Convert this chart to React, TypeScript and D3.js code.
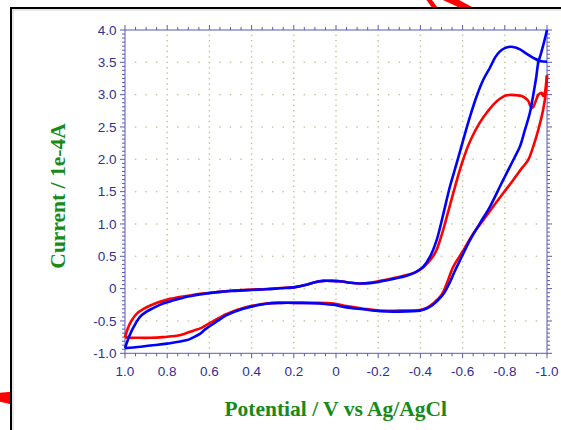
import React from "react";
import * as d3 from "d3";

// ---- data (Potential V, Current 1e-4 A) ----
const redForward: [number, number][] = [
  [1.0, -0.75], [0.985, -0.6], [0.97, -0.5], [0.945, -0.39], [0.91, -0.31], [0.88, -0.26],
  [0.8, -0.17], [0.7, -0.11], [0.645, -0.08], [0.55, -0.05], [0.49, -0.03], [0.4, -0.015],
  [0.33, -0.005], [0.265, 0.01], [0.2, 0.02], [0.14, 0.06], [0.1, 0.1], [0.06, 0.12],
  [0.02, 0.12], [-0.03, 0.11], [-0.07, 0.09], [-0.11, 0.08], [-0.16, 0.09], [-0.21, 0.12],
  [-0.27, 0.16], [-0.335, 0.21], [-0.38, 0.26], [-0.41, 0.32], [-0.435, 0.4], [-0.46, 0.5],
  [-0.477, 0.6], [-0.493, 0.75], [-0.51, 0.93], [-0.525, 1.11], [-0.556, 1.48], [-0.58, 1.76],
  [-0.6, 1.97], [-0.625, 2.2], [-0.65, 2.38], [-0.68, 2.56], [-0.714, 2.72], [-0.762, 2.9],
  [-0.809, 2.99], [-0.856, 2.99], [-0.88, 2.98], [-0.896, 2.95], [-0.912, 2.9], [-0.922, 2.82],
  [-0.932, 2.8], [-0.943, 2.87], [-0.959, 3.0], [-0.967, 3.02], [-0.974, 3.03], [-0.982, 2.98],
  [-0.991, 3.05], [-0.996, 3.18], [-1.0, 3.3],
];
const redReverse: [number, number][] = [
  [-1.0, 3.3], [-0.995, 3.05], [-0.982, 2.77], [-0.959, 2.46], [-0.935, 2.2], [-0.911, 1.99],
  [-0.88, 1.86], [-0.84, 1.68], [-0.793, 1.48], [-0.745, 1.27], [-0.698, 1.06], [-0.65, 0.85],
  [-0.603, 0.59], [-0.556, 0.34], [-0.525, 0.08], [-0.5, -0.1], [-0.46, -0.23], [-0.43, -0.3],
  [-0.398, -0.33], [-0.3, -0.34], [-0.209, -0.34], [-0.13, -0.31], [-0.05, -0.27], [0.013, -0.23],
  [0.108, -0.22], [0.17, -0.22], [0.265, -0.22], [0.33, -0.23], [0.44, -0.3], [0.518, -0.39],
  [0.597, -0.53], [0.64, -0.61], [0.676, -0.65], [0.72, -0.7], [0.755, -0.73], [0.82, -0.75],
  [0.88, -0.76], [0.95, -0.76], [0.976, -0.76], [1.0, -0.75],
];
const blueForward: [number, number][] = [
  [1.0, -0.92], [0.985, -0.78], [0.968, -0.65], [0.95, -0.54], [0.93, -0.44], [0.9, -0.36],
  [0.866, -0.3], [0.82, -0.23], [0.77, -0.18], [0.7, -0.12], [0.645, -0.09], [0.55, -0.05],
  [0.49, -0.035], [0.4, -0.02], [0.33, -0.01], [0.265, 0.005], [0.2, 0.02], [0.14, 0.06],
  [0.1, 0.1], [0.06, 0.12], [0.02, 0.12], [-0.03, 0.11], [-0.07, 0.09], [-0.11, 0.08],
  [-0.16, 0.085], [-0.21, 0.11], [-0.27, 0.15], [-0.335, 0.2], [-0.38, 0.26], [-0.414, 0.34],
  [-0.445, 0.49], [-0.477, 0.75], [-0.509, 1.16], [-0.54, 1.58], [-0.572, 1.94], [-0.603, 2.3],
  [-0.635, 2.66], [-0.667, 2.98], [-0.698, 3.23], [-0.73, 3.42], [-0.755, 3.58], [-0.777, 3.67],
  [-0.8, 3.72], [-0.825, 3.74], [-0.85, 3.73], [-0.872, 3.7], [-0.9, 3.64], [-0.935, 3.57],
  [-0.967, 3.52], [-1.0, 3.51],
];
const blueReverse: [number, number][] = [
  [-1.0, 4.0], [-0.985, 3.8], [-0.97, 3.62], [-0.959, 3.5], [-0.948, 3.25], [-0.935, 3.0],
  [-0.919, 2.72], [-0.895, 2.45], [-0.872, 2.2], [-0.845, 2.02], [-0.825, 1.89], [-0.8, 1.73],
  [-0.777, 1.58], [-0.73, 1.27], [-0.682, 1.01], [-0.635, 0.75], [-0.588, 0.44], [-0.56, 0.25],
  [-0.54, 0.1], [-0.51, -0.08], [-0.48, -0.19], [-0.455, -0.26], [-0.42, -0.32], [-0.398, -0.34],
  [-0.3, -0.355], [-0.209, -0.35], [-0.13, -0.32], [-0.05, -0.29], [0.013, -0.25], [0.108, -0.225],
  [0.17, -0.22], [0.265, -0.22], [0.33, -0.235], [0.44, -0.31], [0.518, -0.41], [0.58, -0.54],
  [0.62, -0.63], [0.645, -0.7], [0.68, -0.76], [0.71, -0.8], [0.8, -0.85], [0.88, -0.88],
  [0.96, -0.91], [1.0, -0.92],
];

const xTicks = [1.0, 0.8, 0.6, 0.4, 0.2, 0, -0.2, -0.4, -0.6, -0.8, -1.0];
const xTickLabels = ["1.0", "0.8", "0.6", "0.4", "0.2", "0", "-0.2", "-0.4", "-0.6", "-0.8", "-1.0"];
const yTicks = [4.0, 3.5, 3.0, 2.5, 2.0, 1.5, 1.0, 0.5, 0, -0.5, -1.0];
const yTickLabels = ["4.0", "3.5", "3.0", "2.5", "2.0", "1.5", "1.0", "0.5", "0", "-0.5", "-1.0"];

const xTitle = "Potential / V vs Ag/AgCl";
const yTitle = "Current / 1e-4A";

export default function App() {
  const W = 561, H = 430;
  const left = 125, right = 547, top = 30, bottom = 353.3;
  const x = d3.scaleLinear().domain([1, -1]).range([left, right]);
  const y = d3.scaleLinear().domain([-1, 4]).range([bottom, top]);
  const line = d3.line<[number, number]>().x(d => x(d[0])).y(d => y(d[1])).curve(d3.curveCatmullRom.alpha(0.5));

  const axisColor = "#5a5ab8";
  const labelColor = "#2f2f96";
  const gridColor = "#c4c99c";
  const green = "#178a17";

  const xMinor = d3.range(0, 41).map(i => -1 + i * 0.05);
  const yMinor = d3.range(0, 81).map(i => -1 + i * 0.0625);
  const yDots = d3.range(1, 60).map(i => -1 + i / 12);
  const isMajorX = (v: number) => Math.abs(v * 5 - Math.round(v * 5)) < 1e-6;
  const isMajorY = (v: number) => Math.abs(v * 2 - Math.round(v * 2)) < 1e-6;

  const dots: JSX.Element[] = [];
  yTicks.slice(1, -1).forEach((yv, i) => {
    xMinor.slice(1, -1).forEach((xv, j) => {
      dots.push(<rect key={`h${i}-${j}`} x={x(xv) - 0.75} y={y(yv) - 0.75} width={1.5} height={1.5} fill={gridColor} />);
    });
  });
  xTicks.slice(1, -1).forEach((xv, i) => {
    yDots.forEach((yv, j) => {
      if (Math.abs(yv * 2 - Math.round(yv * 2)) < 1e-6) return;
      dots.push(<rect key={`v${i}-${j}`} x={x(xv) - 0.75} y={y(yv) - 0.75} width={1.5} height={1.5} fill={gridColor} />);
    });
  });

  return (
    <svg width={W} height={H} style={{ position: "absolute", left: 0, top: 0, background: "#fff" }}>
      <rect x={0} y={0} width={W} height={H} fill="#fff" />
      {/* decorative red pieces */}
      <polygon points="426.5,0 432,0 437,7 431.5,7" fill="#ff0000" />
      <polygon points="443,0 459,0 472,7 458,7" fill="#ff0000" />
      <polygon points="0,392.7 11,391.7 11,404.3 0,401.7" fill="#ff0000" />
      {/* frame */}
      <line x1={11} x2={W} y1={10} y2={10} stroke="#cfcfcf" strokeWidth={1} />
      <line x1={13} x2={13} y1={8} y2={H} stroke="#cfcfcf" strokeWidth={1} />
      <line x1={10} x2={W} y1={8} y2={8} stroke="#000" strokeWidth={2} />
      <line x1={11} x2={11} y1={7} y2={H} stroke="#000" strokeWidth={2} />

      {/* grid */}
      <g>{dots}</g>

      {/* axes box */}
      <rect x={left} y={top} width={right - left} height={bottom - top} fill="none" stroke={axisColor} strokeWidth={1} />
      {xMinor.map((v, i) => {
        const maj = isMajorX(v);
        const len = maj ? 5 : 3;
        return (
          <g key={`xt${i}`} stroke={axisColor} strokeWidth={1}>
            <line x1={x(v)} x2={x(v)} y1={bottom} y2={bottom + len} />
            <line x1={x(v)} x2={x(v)} y1={top} y2={top - len} />
          </g>
        );
      })}
      {yMinor.map((v, i) => {
        const maj = isMajorY(v);
        const len = maj ? 5 : 3;
        return (
          <g key={`yt${i}`} stroke={axisColor} strokeWidth={1}>
            <line x1={left} x2={left - len} y1={y(v)} y2={y(v)} />
            <line x1={right} x2={right + len} y1={y(v)} y2={y(v)} />
          </g>
        );
      })}

      {/* tick labels */}
      {xTicks.map((v, i) => (
        <text key={`xl${i}`} x={x(v)} y={376} textAnchor="middle" fontFamily="Liberation Sans, Arial, sans-serif" fontSize={13.5} fill={labelColor}>
          {xTickLabels[i]}
        </text>
      ))}
      {yTicks.map((v, i) => (
        <text key={`yl${i}`} x={116.5} y={y(v) + 4.8} textAnchor="end" fontFamily="Liberation Sans, Arial, sans-serif" fontSize={13.5} fill={labelColor}>
          {yTickLabels[i]}
        </text>
      ))}

      {/* curves */}
      <path d={line(redForward) || ""} fill="none" stroke="#ff0000" strokeWidth={2.6} strokeLinejoin="round" />
      <path d={line(redReverse) || ""} fill="none" stroke="#ff0000" strokeWidth={2.6} strokeLinejoin="round" />
      <path d={line(blueForward) || ""} fill="none" stroke="#0000ff" strokeWidth={2.6} strokeLinejoin="round" />
      <path d={line(blueReverse) || ""} fill="none" stroke="#0000ff" strokeWidth={2.6} strokeLinejoin="round" />

      {/* titles */}
      <text x={335.7} y={416} textAnchor="middle" fontFamily="Liberation Serif, Times New Roman, serif" fontWeight="bold" fontSize={21.5} fill={green}>
        {xTitle}
      </text>
      <text transform="translate(65,196) rotate(-90)" textAnchor="middle" fontFamily="Liberation Serif, Times New Roman, serif" fontWeight="bold" fontSize={21.5} fill={green}>
        {yTitle}
      </text>
    </svg>
  );
}
